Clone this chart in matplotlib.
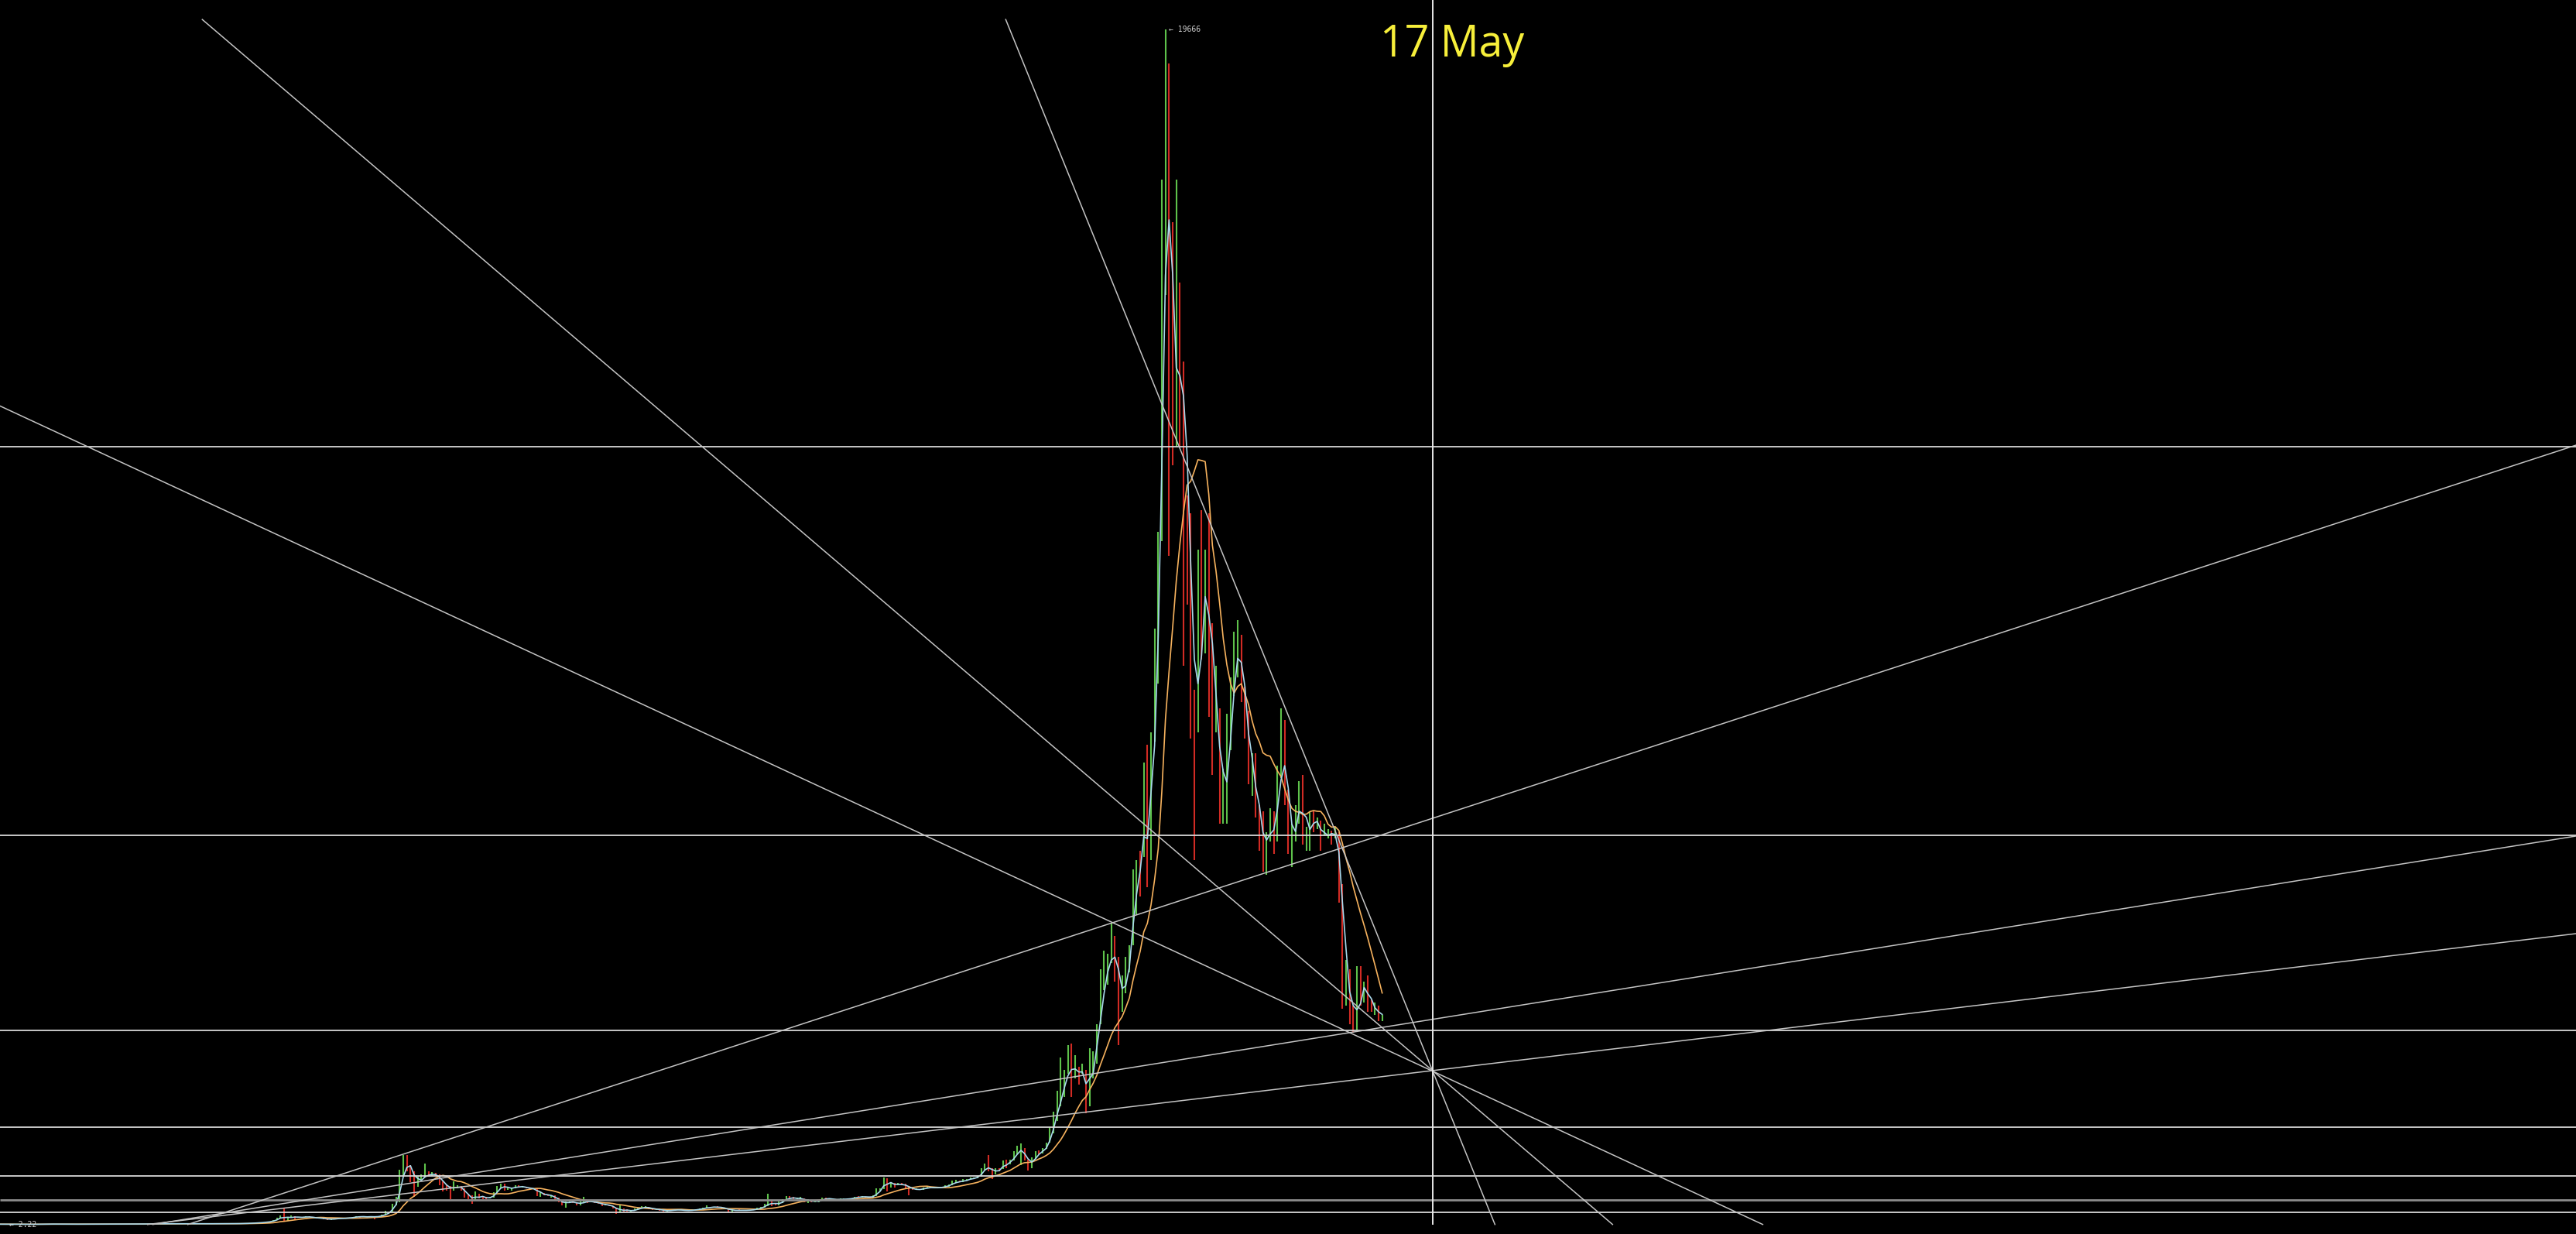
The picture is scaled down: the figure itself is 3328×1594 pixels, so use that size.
import matplotlib
matplotlib.use("Agg")
import matplotlib.pyplot as plt
import pandas as pd

# weekly bars: (high, low, close), one tuple per week
BARS_2011 = [(5.2, 4.5, 4.7), (4.8, 3.9, 4.1), (4.2, 2.22, 3.2), (3.6, 2.8, 3.3), (3.6, 3.0, 3.1),
             (3.2, 2.8, 2.9), (3.0, 2.3, 2.5), (2.6, 2.3, 2.5), (3.2, 2.5, 3.0), (3.1, 2.8, 3.0),
             (3.3, 3.0, 3.2), (4.0, 3.2, 3.9), (5.3, 3.9, 4.7)]
BARS_2012 = [(7.0, 4.7, 6.8), (7.4, 6.2, 6.6), (6.8, 6.0, 6.3), (6.4, 5.3, 5.6), (6.2, 5.5, 5.9),
             (6.0, 5.6, 5.6), (5.6, 4.3, 4.5), (5.2, 4.3, 5.0), (5.1, 4.8, 4.9), (5.4, 4.8, 5.0),
             (5.4, 4.9, 5.3), (5.0, 4.6, 4.8), (5.0, 4.6, 4.9), (5.0, 4.8, 4.9), (5.0, 4.8, 4.9),
             (5.2, 4.9, 5.1), (5.2, 5.0, 5.1), (5.2, 5.0, 5.1), (5.1, 4.9, 5.0), (5.1, 4.9, 5.0),
             (5.2, 5.0, 5.1), (5.3, 5.1, 5.2), (5.6, 5.2, 5.5), (6.0, 5.5, 5.9), (6.6, 5.9, 6.5),
             (6.8, 6.3, 6.7), (6.9, 6.5, 6.7), (7.6, 6.7, 7.5), (8.9, 7.4, 8.7), (9.0, 8.3, 8.8),
             (10.9, 8.8, 10.8), (11.5, 10.6, 11.2), (15.4, 11.0, 12.0), (12.5, 7.1, 10.2),
             (11.3, 10.0, 10.9), (11.2, 10.5, 11.0), (11.7, 10.9, 11.6), (12.7, 11.5, 12.3),
             (12.5, 12.0, 12.4), (12.9, 12.3, 12.0), (12.3, 11.6, 11.8), (12.0, 11.5, 11.7),
             (11.9, 9.8, 10.9), (11.1, 10.5, 10.9), (11.0, 10.7, 10.9), (11.9, 10.9, 11.7),
             (12.4, 11.6, 12.3), (12.6, 12.1, 12.5), (13.5, 12.5, 13.4), (13.7, 13.2, 13.5),
             (13.5, 13.2, 13.4), (13.5, 13.3, 13.4), (13.9, 13.2, 13.7)]
BARS_2013 = [(14.4, 13.6, 14.2), (16.0, 14.1, 15.6), (17.8, 15.5, 17.5), (20.6, 17.0, 20.4),
             (22.9, 19.9, 22.5), (27.4, 22.3, 27.0), (30.5, 26.5, 30.3), (34.5, 29.5, 34.3),
             (48, 34, 46.9), (48.4, 37, 47), (72, 46, 71.5), (105, 70, 104), (145, 92, 143),
             (266, 50, 92), (125, 65, 120), (155, 120, 133), (140, 80, 113), (123, 108, 117),
             (126, 105, 123), (130, 120, 129), (133, 117, 121), (123, 100, 108), (110, 99, 101),
             (113, 100, 107), (103, 88, 89), (93, 66, 76), (99, 69, 97), (100, 87, 95),
             (98, 91, 96), (107, 95, 105), (107, 102, 104), (112, 100, 111), (124, 111, 122),
             (135, 118, 135), (137, 113, 125), (135, 124, 128), (132, 121, 124), (134, 121, 133),
             (139, 85, 124), (133, 123, 131), (165, 131, 163), (222, 163, 182), (212, 180, 211),
             (340, 213, 336), (460, 315, 430), (900, 370, 800), (1147, 780, 1120),
             (1140, 870, 900), (980, 700, 880), (880, 455, 660), (790, 620, 735), (830, 720, 780)]
BARS_2014 = [(1000, 770, 830), (880, 790, 820), (860, 800, 830), (850, 780, 810), (830, 640, 700),
             (710, 550, 640), (660, 560, 610), (630, 410, 570), (710, 560, 630), (650, 600, 630),
             (630, 560, 580), (590, 440, 460), (500, 420, 450), (480, 340, 400), (540, 390, 500),
             (510, 430, 445), (460, 420, 440), (450, 420, 435), (450, 430, 445), (530, 445, 525),
             (630, 520, 620), (670, 600, 650), (670, 560, 590), (610, 570, 595), (610, 560, 600),
             (650, 600, 630), (640, 610, 620), (630, 610, 620), (625, 590, 595), (600, 570, 585),
             (595, 580, 590), (590, 470, 500), (525, 460, 510), (520, 480, 480), (490, 470, 475),
             (485, 440, 475), (480, 390, 400), (440, 370, 380), (390, 310, 330), (380, 280, 370),
             (400, 370, 385), (390, 350, 355), (360, 320, 325), (375, 320, 365), (460, 360, 385),
             (390, 350, 375), (385, 365, 375), (380, 350, 355), (360, 340, 345), (350, 300, 320),
             (335, 310, 320), (330, 300, 315)]
BARS_2015 = [(300, 260, 270), (280, 170, 210), (310, 200, 260), (260, 210, 230), (245, 210, 220),
             (240, 215, 235), (260, 230, 240), (280, 235, 275), (300, 270, 285), (300, 280, 285),
             (290, 255, 260), (265, 240, 245), (260, 240, 255), (260, 230, 235), (238, 215, 222),
             (238, 215, 225), (245, 220, 240), (245, 232, 240), (245, 232, 235), (243, 232, 237),
             (240, 223, 225), (232, 220, 228), (250, 228, 245), (255, 240, 245), (260, 240, 257),
             (275, 255, 270), (310, 265, 290), (295, 270, 275), (295, 270, 295), (298, 280, 285),
             (285, 260, 265), (270, 255, 262), (262, 195, 230), (235, 200, 230), (240, 225, 238),
             (245, 225, 230), (240, 225, 232), (240, 225, 235), (240, 233, 238), (250, 236, 248),
             (270, 245, 268), (285, 262, 282), (335, 280, 320), (500, 300, 380), (400, 300, 330),
             (340, 310, 325), (380, 320, 375), (420, 355, 395), (470, 390, 450), (465, 430, 440),
             (460, 410, 422), (440, 415, 430)]
BARS_2016 = [(460, 420, 430), (435, 360, 375), (410, 350, 400), (400, 365, 375), (400, 360, 375),
             (400, 370, 395), (445, 395, 435), (445, 400, 430), (435, 400, 410), (420, 405, 412),
             (420, 405, 410), (425, 410, 415), (425, 410, 420), (425, 415, 420), (432, 420, 430),
             (460, 430, 455), (470, 440, 450), (465, 440, 460), (460, 445, 455), (460, 435, 440),
             (475, 435, 470), (590, 470, 575), (600, 560, 590), (770, 580, 740), (760, 550, 660),
             (690, 610, 670), (690, 610, 650), (680, 650, 665), (680, 650, 660), (665, 600, 620),
             (630, 480, 585), (595, 570, 575), (590, 570, 575), (585, 570, 575), (610, 570, 605),
             (630, 600, 610), (612, 600, 605), (610, 590, 600), (615, 595, 610), (620, 605, 615),
             (640, 610, 635), (660, 625, 655), (720, 650, 700), (740, 680, 705), (720, 695, 700),
             (750, 700, 735), (745, 725, 735), (775, 735, 765), (775, 755, 770), (800, 760, 790),
             (930, 790, 900), (1000, 890, 995)]
BARS_2017 = [(1140, 870, 900), (920, 750, 820), (930, 820, 920), (930, 880, 915), (1050, 910, 1020),
             (1070, 930, 1000), (1060, 990, 1050), (1210, 1050, 1190), (1290, 1150, 1230),
             (1330, 980, 1240), (1260, 1050, 1030), (1070, 890, 960), (1100, 930, 1090),
             (1210, 1080, 1190), (1220, 1160, 1180), (1260, 1170, 1240), (1350, 1240, 1340),
             (1600, 1340, 1560), (1850, 1500, 1800), (2200, 1700, 2050), (2750, 1950, 2190),
             (2550, 2100, 2500), (2950, 2480, 2650), (2980, 2100, 2500), (2780, 2400, 2530),
             (2600, 2300, 2500), (2650, 2480, 2500), (2550, 1830, 1950), (2900, 1950, 2750),
             (2850, 2400, 2750), (3300, 2650, 3250), (4200, 3300, 4050), (4500, 3850, 4100),
             (4450, 3950, 4300), (4950, 4300, 4650), (4750, 4000, 4250), (4400, 2950, 3700),
             (4100, 3500, 3700), (4400, 3800, 4380), (4600, 4150, 4600), (5850, 4600, 5700),
             (6000, 5100, 6000), (6150, 5400, 5750), (7600, 6050, 7400), (7900, 5550, 5900),
             (8100, 6000, 8000), (9800, 7950, 9750), (11400, 8900, 11250), (17200, 11250, 16500),
             (19666, 15300, 19100), (19100, 11000, 14000), (16500, 12500, 13800)]
BARS_2018 = [(17200, 12800, 14500), (15500, 12800, 13600), (14200, 9200, 12800),
             (12000, 10200, 11600), (11700, 8000, 8200), (8800, 6000, 8100), (11100, 8100, 10400),
             (11750, 9300, 9600), (11100, 9400, 11000), (11700, 8350, 9500), (9900, 7400, 8200),
             (9200, 8100, 8500), (8500, 6600, 6900), (7500, 6600, 6950), (8400, 6600, 8000),
             (9000, 7800, 8900), (9750, 8700, 9400), (9950, 9000, 9650), (9700, 8600, 8700),
             (8850, 8000, 8200), (8450, 7250, 7350), (7750, 7050, 7500), (7750, 6700, 6750),
             (6900, 6150, 6450), (6800, 5800, 6150), (6450, 5750, 6380), (6850, 6300, 6750),
             (6800, 6100, 6350), (7550, 6300, 7400), (8500, 7350, 8200), (8300, 6900, 7050),
             (7150, 6100, 6300), (6600, 5880, 6400), (6900, 6300, 6700), (7300, 6600, 7300),
             (7400, 6250, 6300), (6550, 6150, 6500), (6800, 6150, 6700), (6800, 6450, 6600),
             (6700, 6500, 6600), (6650, 6150, 6300), (6600, 6400, 6450), (6500, 6350, 6450),
             (6480, 6250, 6400), (6550, 6350, 6400), (6450, 5300, 5600), (5600, 3550, 3900),
             (4350, 3600, 4100), (4200, 3300, 3500), (3600, 3150, 3200), (4250, 3200, 3900),
             (4250, 3600, 3800), (4000, 3650, 4000)]
BARS_2019 = [(4100, 3500, 3600), (3700, 3500, 3550), (3650, 3450, 3550), (3600, 3350, 3400),
             (3450, 3350, 3420)]

SEGMENTS = [("2011-10-03", BARS_2011), ("2012-01-02", BARS_2012), ("2013-01-07", BARS_2013),
            ("2014-01-06", BARS_2014), ("2015-01-05", BARS_2015), ("2016-01-04", BARS_2016),
            ("2017-01-02", BARS_2017), ("2018-01-01", BARS_2018), ("2019-01-07", BARS_2019)]

# doubling support levels
LEVELS = [200, 400, 800, 1600, 3200, 6400, 12800]
# hand-drawn trend lines: (start date, start price, end date, end price)
TREND_LINES = [
    ("2011-10-09", 13470, "2021-02-14", 0),
    ("2012-11-04", 19830, "2020-04-29", 0),
    ("2017-02-08", 19830, "2019-09-14", 0),
    ("2012-10-07", 0, "2025-06-09", 12825),
    ("2012-07-31", 0, "2025-06-09", 6392),
    ("2012-07-21", 0, "2025-06-09", 4786),
]
TARGET_DATE = "2019-05-17"
TARGET_LABEL = "17 May"

X_RANGE = ("2011-10-09", "2025-06-09")
Y_RANGE = (-157, 20151)

GREEN, RED = "#5ec24b", "#d12b24"
FAST_C, SLOW_C = "#a9d9ec", "#f6b25e"
LINE_C = "#c4c4c4"

# assemble weekly frame
frames = []
for start, bars in SEGMENTS:
    f = pd.DataFrame(bars, columns=["high", "low", "close"])
    f["date"] = pd.date_range(start, periods=len(bars), freq="7D") + pd.Timedelta(days=3.5)
    frames.append(f)
df = pd.concat(frames, ignore_index=True)
df["open"] = df["close"].shift(1).fillna(df["close"])
df["fast"] = df["close"].rolling(3, min_periods=1).mean()
df["slow"] = df["close"].rolling(13, min_periods=1).mean()
colors = [GREEN if c >= o else RED for c, o in zip(df["close"], df["open"])]

fig = plt.figure(figsize=(33.28, 15.94), dpi=100, facecolor="black")
ax = fig.add_axes([0, 0, 1, 1])
ax.set_facecolor("black")
ax.axis("off")
x0, x1 = pd.Timestamp(X_RANGE[0]), pd.Timestamp(X_RANGE[1])
ax.set_xlim(x0, x1)
ax.set_ylim(*Y_RANGE)

ax.vlines(df["date"], df["low"], df["high"], colors=colors, lw=1.5, zorder=2)
ax.plot(df["date"], df["slow"], color=SLOW_C, lw=1.2, zorder=3)
ax.plot(df["date"], df["fast"], color=FAST_C, lw=1.2, zorder=3)

for lvl in LEVELS:
    ax.hlines(lvl, x0, x1, color="#8c8c8c" if lvl == 400 else "#d8d8d8",
              lw=2.0 if lvl == 400 else 1.3, zorder=4)
for d1, p1, d2, p2 in TREND_LINES:
    ax.plot([pd.Timestamp(d1), pd.Timestamp(d2)], [p1, p2], color=LINE_C, lw=1.1, zorder=4)
ax.vlines(pd.Timestamp(TARGET_DATE), 0, Y_RANGE[1], color="#e8e8e8", lw=1.4, zorder=4)

# extreme markers
i_hi = df["high"].idxmax()
i_lo = df["low"].idxmin()
for i, val in ((i_hi, df["high"][i_hi]), (i_lo, df["low"][i_lo])):
    ax.annotate(f"\u2190 {val:g}", xy=(df["date"][i], val), xytext=(3, 0),
                textcoords="offset points", va="center", ha="left", fontsize=7,
                family="DejaVu Sans Mono", color="#d0d0d0", zorder=5)

ax.text(0.5636, 1 - 73 / 1594, TARGET_LABEL, transform=ax.transAxes, ha="center",
        va="baseline", fontsize=40, family="Open Sans", color="#f7ef3a", zorder=5)

fig.savefig("out.png", dpi=100, facecolor="black")
